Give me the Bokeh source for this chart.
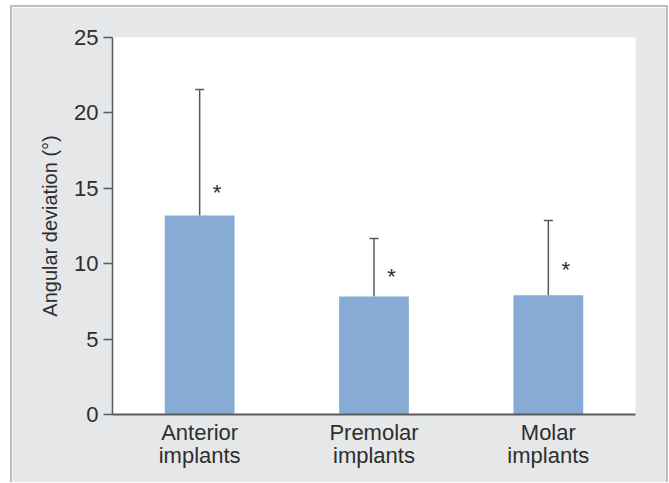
from bokeh.plotting import figure
from bokeh.models import ColumnDataSource, Whisker, TeeHead, FactorRange, Range1d, FixedTicker, Spacer
from bokeh.layouts import row, column
from bokeh.transform import dodge
from bokeh.embed import file_html
from bokeh.resources import INLINE

categories = ["Anterior\nimplants", "Premolar\nimplants", "Molar\nimplants"]
means = [13.2, 7.82, 7.9]
sds = [8.35, 3.85, 4.96]
star_y = [14.7, 9.15, 9.6]
y_ticks = [0, 5, 10, 15, 20, 25]

upper = [m + s for m, s in zip(means, sds)]
src = ColumnDataSource(dict(cat=categories, mean=means, upper=upper, star=star_y,
                            label=["*"] * len(categories)))

FONT = "Liberation Sans"
TXT = "#2e2e2e"
AX = "#5a5a5a"
EDGE = "#bcbdbf"

p = figure(width=654, height=475, x_range=FactorRange(*categories, range_padding=0),
           y_range=Range1d(0, 25), output_backend="svg", toolbar_location=None,
           min_border_left=100, min_border_right=31, min_border_top=30, min_border_bottom=68)
p.x_range.factor_padding = 0
p.border_fill_color = "#E6E7E8"
p.background_fill_color = "white"
p.outline_line_color = None
p.grid.visible = False

p.vbar(x="cat", top="mean", bottom=0, width=0.4, source=src,
       fill_color="#86ABD5", line_color=None)

w = Whisker(base="cat", lower="mean", upper="upper", source=src,
            line_color=AX, line_width=1.5, lower_head=None,
            upper_head=TeeHead(size=9, line_color=AX, line_width=1.5))
p.add_layout(w)

p.text(x=dodge("cat", 0.1, range=p.x_range), y="star", text="label", source=src,
       text_font={"value": FONT}, text_font_size="22px", text_color=TXT,
       text_align="center", text_baseline="middle")

p.yaxis.ticker = FixedTicker(ticks=y_ticks)
p.yaxis.axis_label = "Angular deviation (°)"
p.yaxis.axis_label_text_font = FONT
p.yaxis.axis_label_text_font_style = "normal"
p.yaxis.axis_label_text_font_size = "20px"
p.yaxis.axis_label_text_color = TXT
p.yaxis.axis_label_standoff = 10
p.yaxis.major_label_text_font = FONT
p.yaxis.major_label_text_font_size = "22px"
p.yaxis.major_label_text_color = TXT
p.yaxis.major_label_standoff = 5
p.yaxis.major_tick_out = 9
p.yaxis.major_tick_in = 0
p.yaxis.minor_tick_line_color = None
p.yaxis.axis_line_color = AX
p.yaxis.axis_line_width = 1.5
p.yaxis.major_tick_line_color = AX
p.yaxis.major_tick_line_width = 1.5

p.xaxis.major_tick_line_color = None
p.xaxis.minor_tick_line_color = None
p.xaxis.major_tick_out = 0
p.xaxis.major_label_text_font = FONT
p.xaxis.major_label_text_font_size = "22px"
p.xaxis.major_label_text_line_height = 0.95
p.xaxis.major_label_text_color = TXT
p.xaxis.major_label_standoff = 5
p.xaxis.axis_line_color = AX
p.xaxis.axis_line_width = 2

edge_top = Spacer(width=658, height=2, styles={"background-color": EDGE})
edge_left = Spacer(width=2, height=475, styles={"background-color": EDGE})
edge_right = Spacer(width=2, height=475, styles={"background-color": EDGE})

layout = column(Spacer(height=5),
                row(Spacer(width=10),
                    column(edge_top, row(edge_left, p, edge_right))))

open("out.html", "w").write(file_html(layout, INLINE))
